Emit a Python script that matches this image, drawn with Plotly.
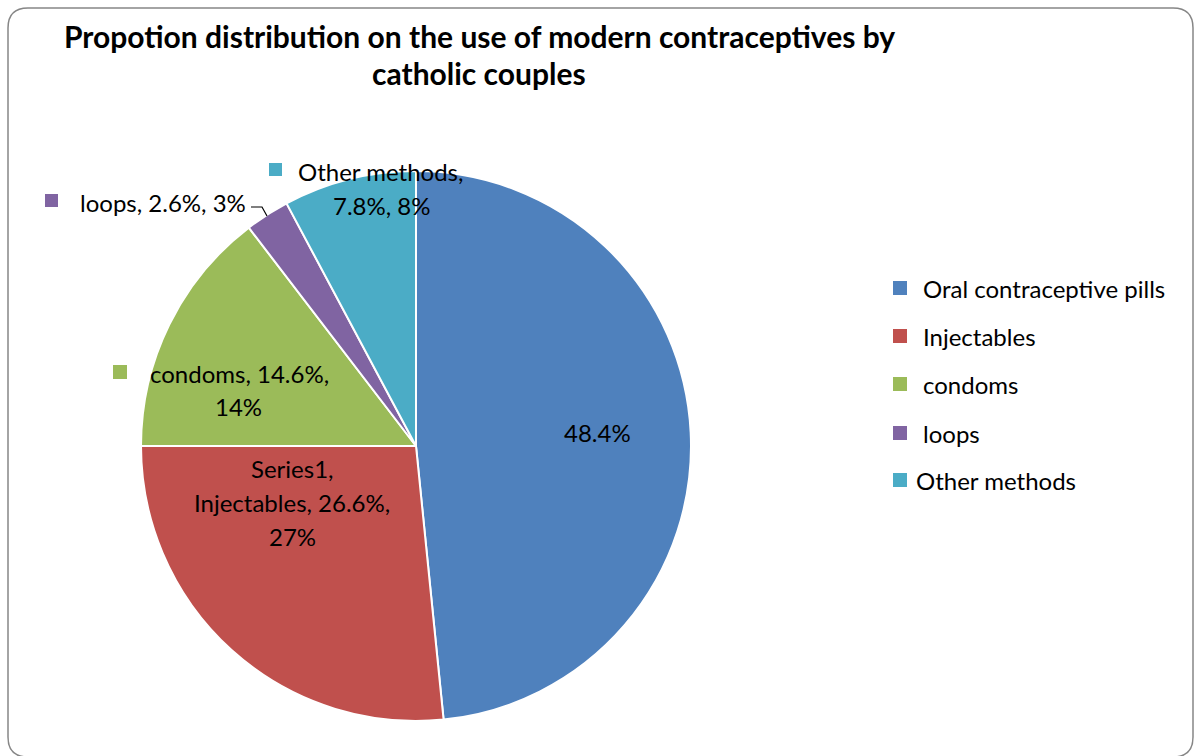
import plotly.graph_objects as go

# ---- data ----
categories = ["Oral contraceptive pills", "Injectables", "condoms", "loops", "Other methods"]
percents = [48.4, 26.6, 14.6, 2.6, 7.8]
rounded = ["48%", "27%", "14%", "3%", "8%"]
colors = ["#4F81BD", "#C0504D", "#9BBB59", "#8064A2", "#4BACC6"]
title_lines = ["Propotion distribution on the use of modern contraceptives by", "catholic couples"]

W, H = 1202, 756
FONT = "Lato"
FS = 24


def px(x):
    return x / W


def py(y):
    return 1 - y / H


cx, cy, r = 416, 446, 275

fig = go.Figure(go.Pie(
    labels=categories,
    values=percents,
    sort=False,
    direction="clockwise",
    rotation=0,
    marker=dict(colors=colors, line=dict(color="white", width=2)),
    textinfo="none",
    hoverinfo="label+percent",
    showlegend=False,
    domain=dict(x=[px(cx - r), px(cx + r)], y=[py(cy + r), py(cy - r)]),
))

ann = []
shapes = []


def text(x, y, s, size=FS, bold=False, xanchor="center"):
    ann.append(dict(x=px(x), y=py(y), xref="paper", yref="paper", text=("<b>%s</b>" % s) if bold else s,
                    showarrow=False, xanchor=xanchor, yanchor="middle",
                    font=dict(family=FONT, size=size, color="black")))


def square(x0, y0, size, color):
    shapes.append(dict(type="rect", xref="paper", yref="paper", x0=px(x0), x1=px(x0 + size),
                       y0=py(y0 + size), y1=py(y0), fillcolor=color, line=dict(width=0)))


# title
text(479, 36, title_lines[0], size=30, bold=True)
text(479, 73, title_lines[1], size=30, bold=True)

# data labels
text(597, 432, f"{percents[0]}%")
text(292, 468, "Series1,")
text(292, 502, f"{categories[1]}, {percents[1]}%,")
text(292, 536, rounded[1])

square(113, 365, 14, colors[2])
text(148, 374, f"{categories[2]}, {percents[2]}%,", xanchor="left")
text(238, 406, rounded[2])

square(45, 194, 13, colors[3])
text(78, 202, f"{categories[3]}, {percents[3]}%, {rounded[3]}", xanchor="left")
shapes.append(dict(type="path", xref="paper", yref="paper",
                   path=f"M {px(251)},{py(207)} L {px(262)},{py(207)} L {px(267)},{py(216)}",
                   line=dict(color="black", width=1.2)))

square(269, 163, 13, colors[4])
text(296, 172, f"{categories[4]},", xanchor="left")
text(382, 205, f"{percents[4]}%, {rounded[4]}")

# legend
leg_y = [288, 336, 384, 433, 480]
leg_x = [921, 921, 921, 921, 914]
for i, name in enumerate(categories):
    square(893, leg_y[i] - 7, 14, colors[i])
    text(leg_x[i], leg_y[i], name, xanchor="left")

# rounded border
x0, y0, x1, y1, rr = px(8), py(8), px(1193), py(757), 20
rx, ry = rr / W, rr / H
border = (f"M {x0 + rx},{y0} L {x1 - rx},{y0} Q {x1},{y0} {x1},{y0 - ry} "
          f"L {x1},{y1 + ry} Q {x1},{y1} {x1 - rx},{y1} "
          f"L {x0 + rx},{y1} Q {x0},{y1} {x0},{y1 + ry} "
          f"L {x0},{y0 - ry} Q {x0},{y0} {x0 + rx},{y0} Z")
shapes.append(dict(type="path", xref="paper", yref="paper", path=border,
                   line=dict(color="#868686", width=1.5)))

fig.update_layout(
    width=W, height=H,
    margin=dict(l=0, r=0, t=0, b=0),
    paper_bgcolor="white", plot_bgcolor="white",
    annotations=ann, shapes=shapes,
    showlegend=False,
)

fig.write_html("out.html")
